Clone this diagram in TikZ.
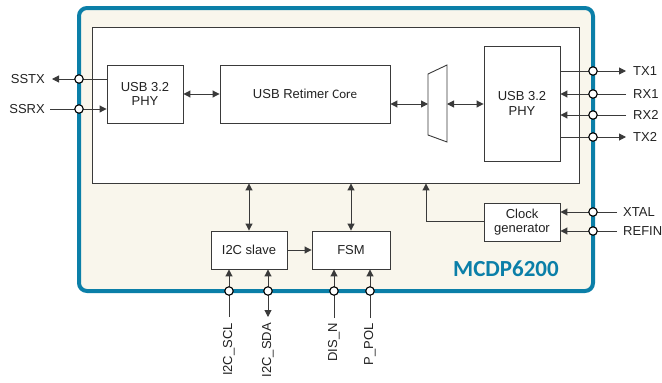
\documentclass[tikz,border=0pt]{standalone}
\usepackage{fontspec}
\setmainfont{Liberation Sans}
\newfontfamily\calib{Carlito}
\usetikzlibrary{arrows.meta}
\definecolor{teal1}{HTML}{0B7FA8}
\definecolor{cream}{HTML}{F9F6EC}
\definecolor{ink}{HTML}{222222}
\definecolor{wire}{HTML}{3A3A3A}
\tikzset{
  blk/.style={draw=wire, line width=0.9pt, fill=white, inner sep=1pt, align=center, text=ink, font=\fontsize{13}{14.5}\selectfont},
  pad/.style={circle, draw=black, line width=1.1pt, fill=white, minimum size=8.5pt, inner sep=0pt},
  wr/.style={draw=wire, line width=1pt},
  tipend/.style={-{Triangle[length=7pt,width=7pt]}},
  tipboth/.style={{Triangle[length=7pt,width=7pt]}-{Triangle[length=7pt,width=7pt]}},
  lbl/.style={text=ink, font=\fontsize{13}{14.5}\selectfont, inner sep=0pt},
}
\begin{document}
\begin{tikzpicture}[x=1pt,y=-1pt]
\useasboundingbox (0,0) rectangle (662,383);
% outer chip
\draw[teal1, line width=4pt, fill=cream, rounded corners=8pt] (79,8) rectangle (593,291);
% inner box
\node[blk, minimum width=487pt, minimum height=156pt] (inner) at (335.5,105) {};
% blocks
\node[blk, minimum width=76pt, minimum height=58pt] (phyL) at (145,94) {USB 3.2\\PHY};
\node[blk, minimum width=170pt, minimum height=58pt] (core) at (305,94) {USB Retimer {\calib\fontsize{13}{14}\selectfont Core}};
\node[blk, minimum width=76pt, minimum height=115pt] (phyR) at (522,103.5) {USB 3.2\\PHY};
\node[blk, minimum width=76pt, minimum height=38pt] (clk) at (522,222) {Clock\\generator};
\node[blk, minimum width=76pt, minimum height=38pt] (i2c) at (249,250) {I2C slave};
\node[blk, minimum width=78pt, minimum height=38pt] (fsm) at (351,250) {FSM};
% mux
\coordinate (m1) at (428,74);
\coordinate (m2) at (447,65);
\coordinate (m3) at (447,142);
\coordinate (m4) at (428,135);
\draw[wire, line width=0.9pt, fill=white] (m1) -- (m2) -- (m3) -- (m4) -- cycle;
% internal connectors
\draw[wr, tipboth] (phyL.east) -- (core.west);
\draw[wr, tipboth] (core.east |- 0,104) -- (m1 |- 0,104);
\draw[wr, tipboth] (m2 |- 0,104) -- (phyR.west |- 0,104);
\draw[wr, tipboth] (inner.south -| i2c.north) -- (i2c.north);
\draw[wr, tipboth] (inner.south -| fsm.north) -- (fsm.north);
\draw[wr, tipend] (i2c.east) -- (fsm.west);
\coordinate (clkturn) at (426,221);
\draw[wr, tipend] (clk.west |- clkturn) -- (clkturn) -- (inner.south -| clkturn);
% left pins
\coordinate (sstxend) at (52,79);
\coordinate (ssrxend) at (50,109);
\draw[wr, tipend] (phyL.west |- sstxend) -- (sstxend);
\draw[wr, tipend] (ssrxend) -- (phyL.west |- ssrxend);
\node[pad] (psstx) at (79,79) {};
\node[pad] (pssrx) at (79,109) {};
\node[lbl, anchor=east] (tsstx) at (45,79) {SSTX};
\node[lbl, anchor=east] (tssrx) at (45,109) {SSRX};
% right pins
\coordinate (tx1e) at (626,71);
\coordinate (rx1e) at (626,94);
\coordinate (rx2e) at (626,115);
\coordinate (tx2e) at (626,137);
\draw[wr, tipend] (phyR.east |- tx1e) -- (tx1e);
\draw[wr, tipend] (rx1e) -- (phyR.east |- rx1e);
\draw[wr, tipend] (rx2e) -- (phyR.east |- rx2e);
\draw[wr, tipend] (phyR.east |- tx2e) -- (tx2e);
\node[pad] (ptx1) at (593,71) {};
\node[pad] (prx1) at (593,94) {};
\node[pad] (prx2) at (593,115) {};
\node[pad] (ptx2) at (593,137) {};
\node[lbl, anchor=west] (ttx1) at (633,71) {TX1};
\node[lbl, anchor=west] (trx1) at (633,94) {RX1};
\node[lbl, anchor=west] (trx2) at (633,115) {RX2};
\node[lbl, anchor=west] (ttx2) at (633,137) {TX2};
% clock pins
\coordinate (xtale) at (617,212);
\coordinate (refe) at (617,231);
\draw[wr, tipend] (xtale) -- (clk.east |- xtale);
\draw[wr, tipend] (refe) -- (clk.east |- refe);
\node[pad] (pxtal) at (593,212) {};
\node[pad] (pref) at (593,231) {};
\node[lbl, anchor=west] (txtal) at (623,212) {XTAL};
\node[lbl, anchor=west] (tref) at (623,231) {REFIN};
% bottom pins
\coordinate (scle) at (229,317);
\coordinate (sdae) at (268,317);
\coordinate (dise) at (334,318);
\coordinate (pole) at (370,318);
\draw[wr, tipend] (scle) -- (i2c.south -| scle);
\draw[wr, tipboth] (i2c.south -| sdae) -- (sdae);
\draw[wr, tipend] (dise) -- (fsm.south -| dise);
\draw[wr, tipend] (pole) -- (fsm.south -| pole);
\node[pad] (pscl) at (229,291) {};
\node[pad] (psda) at (268,291) {};
\node[pad] (pdis) at (334,291) {};
\node[pad] (ppol) at (370,291) {};
\node[lbl, rotate=90, anchor=east] (tscl) at (229,323) {I2C\_SCL};
\node[lbl, rotate=90, anchor=east] (tsda) at (268,323) {I2C\_SDA};
\node[lbl, rotate=90, anchor=east] (tdis) at (334,323) {DIS\_N};
\node[lbl, rotate=90, anchor=east] (tpol) at (370,323) {P\_POL};
% title
\node[text=teal1, font=\calib\bfseries\fontsize{23}{26}\selectfont, inner sep=0pt] (title) at (506,269) {MCDP6200};
\end{tikzpicture}
\end{document}
